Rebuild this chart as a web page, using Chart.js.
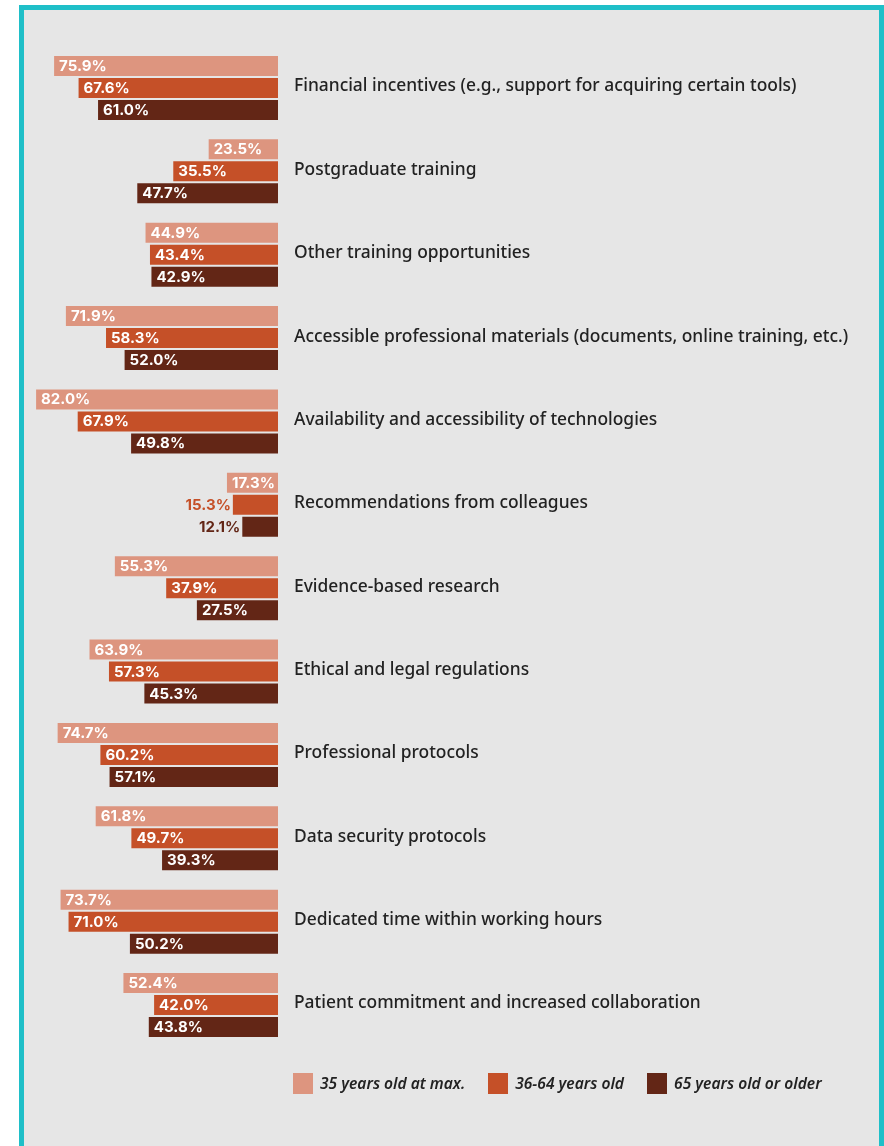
<!DOCTYPE html>
<html>
<head>
<meta charset="utf-8">
<script src="https://cdn.jsdelivr.net/npm/chart.js@4.4.1/dist/chart.umd.min.js"></script>
<style>
  html, body { margin: 0; padding: 0; background: #fff; }
  body { width: 884px; height: 1146px; position: relative; overflow: hidden; }
  .frame {
    position: absolute; left: 18.5px; top: 4.5px; width: 865.5px; height: 1200px;
    background: #e6e6e6; border: 5.5px solid #1fbfc8; border-bottom: none;
    box-sizing: border-box;
  }
  #chartBox { position: absolute; left: 0; top: 0; width: 884px; height: 1146px; }
  .legend {
    position: absolute; left: 293px; top: 1072px; display: flex; align-items: center;
    font-family: "Noto Sans", sans-serif; font-style: italic; font-weight: 600; font-size: 15.6px; color: #222;
  }
  .legend span.box { display: inline-block; width: 20px; height: 21px; margin-right: 7px; }
  .legend .item { display: flex; align-items: center; margin-right: 23px; }
</style>
</head>
<body>
<div class="frame"></div>
<div id="chartBox"><canvas id="barChart"></canvas></div>
<div class="legend" id="legend"></div>
<script>
const categories = [
  'Financial incentives (e.g., support for acquiring certain tools)',
  'Postgraduate training',
  'Other training opportunities',
  'Accessible professional materials (documents, online training, etc.)',
  'Availability and accessibility of technologies',
  'Recommendations from colleagues',
  'Evidence-based research',
  'Ethical and legal regulations',
  'Professional protocols',
  'Data security protocols',
  'Dedicated time within working hours',
  'Patient commitment and increased collaboration'
];
const seriesNames = ['35 years old at max.', '36-64 years old', '65 years old or older'];
const young = [75.9, 23.5, 44.9, 71.9, 82.0, 17.3, 55.3, 63.9, 74.7, 61.8, 73.7, 52.4];
const middle = [67.6, 35.5, 43.4, 58.3, 67.9, 15.3, 37.9, 57.3, 60.2, 49.7, 71.0, 42.0];
const older = [61.0, 47.7, 42.9, 52.0, 49.8, 12.1, 27.5, 45.3, 57.1, 39.3, 50.2, 43.8];
const colors = ['#dd957f', '#c55028', '#632616'];

// value labels: inside the bar when it fits, otherwise to the left in bar colour
const valueLabels = {
  id: 'valueLabels',
  afterDatasetsDraw(chart) {
    const ctx = chart.ctx;
    ctx.save();
    ctx.font = 'bold 15px Inter, sans-serif';
    ctx.textBaseline = 'middle';
    chart.data.datasets.forEach((ds, i) => {
      chart.getDatasetMeta(i).data.forEach((bar, j) => {
        const txt = ds.data[j].toFixed(1) + '%';
        const tw = ctx.measureText(txt).width;
        const w = bar.base - bar.x;
        if (w >= tw + 7) {
          ctx.fillStyle = '#fff';
          ctx.textAlign = 'left';
          ctx.fillText(txt, bar.x + 5, bar.y + 0.5);
        } else {
          ctx.fillStyle = colors[i];
          ctx.textAlign = 'right';
          ctx.fillText(txt, bar.x - 2, bar.y + 0.5);
        }
      });
    });
    ctx.restore();
  }
};

const ctx = document.getElementById('barChart').getContext('2d');
const barChart = new Chart(ctx, {
  type: 'bar',
  data: {
    labels: categories,
    datasets: [young, middle, older].map((d, i) => ({
      label: seriesNames[i],
      data: d,
      backgroundColor: colors[i],
      categoryPercentage: 0.792,
      barPercentage: 0.909
    }))
  },
  options: {
    indexAxis: 'y',
    responsive: true,
    maintainAspectRatio: false,
    animation: false,
    layout: { padding: { left: 27.25, right: 0, top: 46.3, bottom: 99.3 } },
    plugins: { legend: { display: false }, tooltip: { enabled: false } },
    scales: {
      x: { display: false, min: 0, max: 85, reverse: true },
      y: {
        position: 'right',
        grid: { display: false, drawTicks: false },
        border: { display: false },
        ticks: {
          padding: 16,
          labelOffset: -1.5,
          color: '#222',
          font: { family: '"Noto Sans", sans-serif', size: 17.4, weight: 500 }
        },
        afterFit(scale) { scale.width = 884 - 278; }
      }
    }
  },
  plugins: [valueLabels]
});

const legend = document.getElementById('legend');
seriesNames.forEach((name, i) => {
  const item = document.createElement('div');
  item.className = 'item';
  item.innerHTML = '<span class="box" style="background:' + colors[i] + '"></span><span>' + name + '</span>';
  legend.appendChild(item);
});
</script>
</body>
</html>
